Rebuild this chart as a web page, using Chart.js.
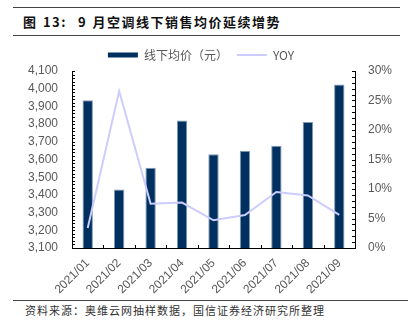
<!DOCTYPE html>
<html>
<head>
<meta charset="utf-8">
<script src="https://cdn.jsdelivr.net/npm/chart.js@4"></script>
<style>
  body { margin: 0; background: #fff; font-family: "Noto Sans CJK SC", sans-serif; }
  #wrap { position: relative; width: 408px; height: 322px; }
  #title { position: absolute; left: 13px; top: 7px; width: 387px; height: 29px;
           border-top: 1px solid #444; border-bottom: 1px solid #444;
           font-size: 13px; font-weight: bold; line-height: 27px; padding-left: 10px; box-sizing: border-box;
           color: #111; letter-spacing: 1.5px; word-spacing: 1px; }
  #foot { position: absolute; left: 13px; top: 300px; width: 387px; border-top: 1px solid #444;
          font-size: 11px; color: #333; padding-left: 12px; padding-top: 1px; letter-spacing: 1px; }
  #box { position: absolute; left: 0; top: 40px; width: 408px; height: 258px; }
</style>
</head>
<body>
<div id="wrap">
  <div id="title">图 13:&nbsp; 9 月空调线下销售均价延续增势</div>
  <div id="box"><canvas id="myChart"></canvas></div>
  <div id="foot">资料来源：奥维云网抽样数据，国信证券经济研究所整理</div>
</div>
<script>
var months = ['2021/01', '2021/02', '2021/03', '2021/04', '2021/05', '2021/06', '2021/07', '2021/08', '2021/09'];
var avgPrice = [3935, 3430, 3553, 3820, 3630, 3650, 3678, 3812, 4024];
var yoy = [3.4, 26.6, 7.5, 7.7, 4.7, 5.6, 9.5, 8.9, 5.6];

// small tick marks like the original
const minorTicks = {
  id: 'minorTicks',
  afterDraw: function (chart) {
    var ctx = chart.ctx;
    var yl = chart.scales.y, yr = chart.scales.y1, x = chart.scales.x;
    ctx.save();
    ctx.strokeStyle = '#000';
    ctx.lineWidth = 1;
    ctx.beginPath();
    for (var v = 3100; v <= 4100; v += 20) {
      var py = Math.round(yl.getPixelForValue(v)) + 0.5;
      ctx.moveTo(yl.right, py);
      ctx.lineTo(yl.right + 3, py);
    }
    for (var p = 0; p <= 30; p += 1) {
      var py2 = Math.round(yr.getPixelForValue(p)) + 0.5;
      ctx.moveTo(yr.left, py2);
      ctx.lineTo(yr.left - 3, py2);
    }
    for (var i = 0; i <= months.length; i++) {
      var px = Math.round(x.getPixelForValue(i - 0.5)) + 0.5;
      ctx.moveTo(px, x.top);
      ctx.lineTo(px, x.top - 3);
    }
    ctx.stroke();
    ctx.restore();
  }
};

const data = {
  labels: months,
  datasets: [{
    type: 'line',
    label: 'YOY',
    data: yoy,
    yAxisID: 'y1',
    borderColor: '#CCCCFF',
    backgroundColor: '#CCCCFF',
    borderWidth: 2,
    pointRadius: 0,
    tension: 0,
    order: 0
  }, {
    type: 'bar',
    label: '线下均价（元）',
    data: avgPrice,
    yAxisID: 'y',
    backgroundColor: '#00305F',
    borderColor: '#7f9ab5',
    borderWidth: { left: 1, right: 1, top: 1, bottom: 0 },
    barPercentage: 0.33,
    categoryPercentage: 1,
    order: 1
  }]
};

const config = {
  data: data,
  options: {
    responsive: true,
    maintainAspectRatio: false,
    animation: false,
    layout: { padding: { left: 2, right: 8, top: 0, bottom: 0 } },
    scales: {
      x: {
        offset: true,
        grid: { display: false, drawTicks: false },
        border: { color: '#000', width: 1 },
        afterFit: function (s) { s.height = 50; },
        ticks: {
          color: '#595959',
          font: { family: 'Liberation Sans', size: 12 },
          minRotation: 45,
          maxRotation: 45,
          autoSkip: false,
          padding: 8
        }
      },
      y: {
        position: 'left',
        min: 3100,
        max: 4100,
        grid: { display: false, drawTicks: false },
        border: { color: '#000', width: 1 },
        afterFit: function (s) { s.width = 70; },
        ticks: {
          stepSize: 100,
          autoSkip: false,
          color: '#595959',
          padding: 14,
          font: { family: 'Liberation Sans', size: 12 },
          callback: function (v) { return v.toLocaleString('en-US'); }
        }
      },
      y1: {
        position: 'right',
        min: 0,
        max: 30,
        grid: { display: false, drawTicks: false },
        border: { color: '#000', width: 1 },
        afterFit: function (s) { s.width = 45; },
        ticks: {
          stepSize: 5,
          autoSkip: false,
          color: '#595959',
          padding: 13,
          font: { family: 'Liberation Sans', size: 12 },
          callback: function (v) { return v + '%'; }
        }
      }
    },
    plugins: {
      legend: {
        display: true,
        position: 'top',
        labels: {
          color: '#595959',
          font: { family: 'Noto Sans CJK SC', size: 12 },
          usePointStyle: true,
          pointStyleWidth: 30,
          boxHeight: 5,
          padding: 9,
          generateLabels: function (chart) {
            return [{
              text: '线下均价（元）', fillStyle: '#00305F', strokeStyle: '#00305F', lineWidth: 0,
              pointStyle: 'rect', datasetIndex: 1, fontColor: '#595959'
            }, {
              text: 'YOY', fillStyle: '#CCCCFF', strokeStyle: '#CCCCFF', lineWidth: 2,
              pointStyle: 'line', datasetIndex: 0, fontColor: '#595959'
            }];
          }
        }
      },
      tooltip: { enabled: false }
    }
  },
  plugins: [minorTicks]
};

const myChart = new Chart(document.getElementById('myChart').getContext('2d'), config);
</script>
</body>
</html>
